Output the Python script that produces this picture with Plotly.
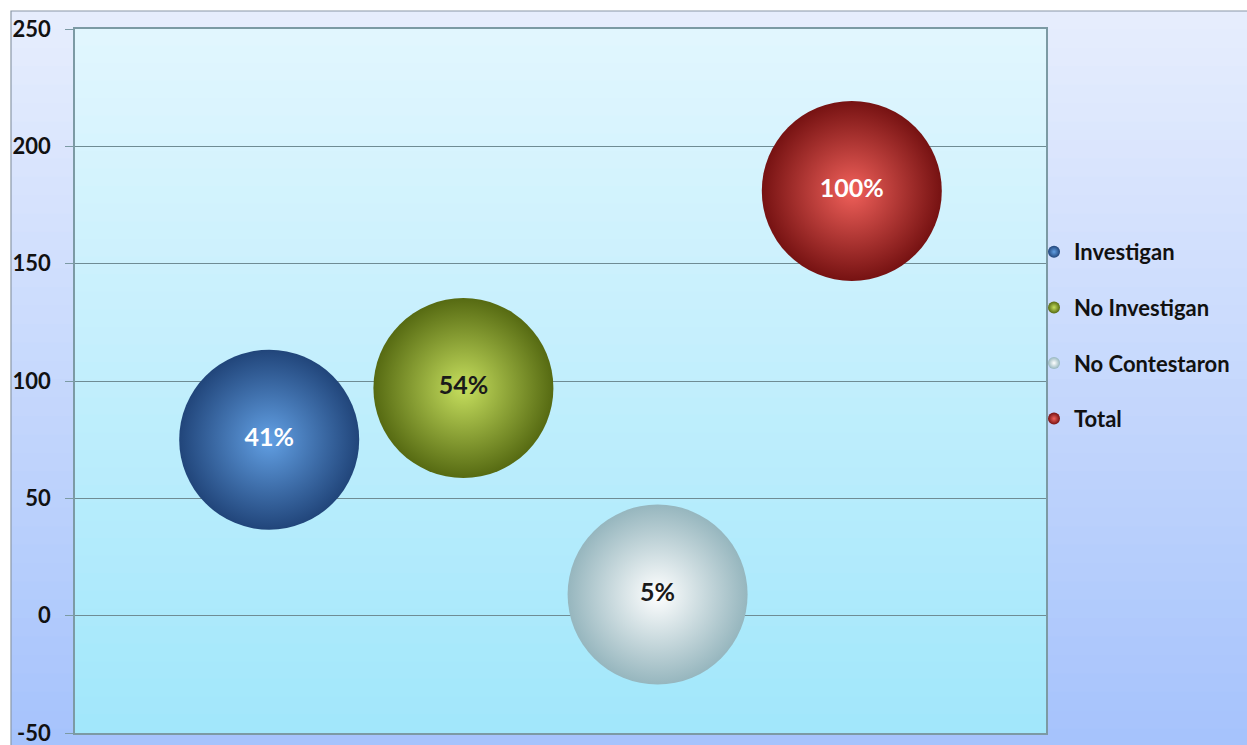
import plotly.graph_objects as go

# ---- data ----
series = ["Investigan", "No Investigan", "No Contestaron", "Total"]
x_pos = [1, 2, 3, 4]
counts = [75, 97, 9, 181]
labels = ["41%", "54%", "5%", "100%"]
y_ticks = [-50, 0, 50, 100, 150, 200, 250]
y_tick_text = ["-50", "0", "50", "100", "150", "200", "250"]

# styles
center_colors = ["#62a0e4", "#c6df5e", "#ffffff", "#f0605a"]
edge_colors = ["#21457a", "#566a12", "#96b6be", "#761212"]
text_colors = ["#ffffff", "#1a1a1a", "#1a1a1a", "#ffffff"]

W, H = 1247, 745
PL, PR, PT, PB = 75, 1046, 29, 733  # plot area in page pixels
L, R, T, B = PL, W - PR, PT, H - PB
pw, ph = PR - PL, PB - PT

def px2paper_x(px):
    return (px - PL) / pw

def px2paper_y(py):
    return (PB - py) / ph

def lerp(c1, c2, t):
    a = [int(c1[i:i + 2], 16) for i in (1, 3, 5)]
    b = [int(c2[i:i + 2], 16) for i in (1, 3, 5)]
    return "rgb(%d,%d,%d)" % tuple(round(a[k] + (b[k] - a[k]) * t) for k in range(3))

shapes = []
n = 40
# outer chart background gradient
y_top, y_bot = 11, H + 2
for i in range(n):
    y0 = y_top + (y_bot - y_top) * i / n
    y1 = y_top + (y_bot - y_top) * (i + 1) / n + 1
    shapes.append(dict(type="rect", xref="paper", yref="paper",
                       x0=px2paper_x(11), x1=px2paper_x(W + 2),
                       y0=px2paper_y(y1), y1=px2paper_y(y0),
                       fillcolor=lerp("#e6edfd", "#a6c3fc", i / (n - 1)),
                       line=dict(width=0), layer="below"))
# outer frame border
shapes.append(dict(type="rect", xref="paper", yref="paper",
                   x0=px2paper_x(11), x1=px2paper_x(W + 5),
                   y0=px2paper_y(H + 5), y1=px2paper_y(11),
                   line=dict(color="#8a98a8", width=1.2), layer="below"))
# plot area gradient
for i in range(n):
    y0 = i / n
    y1 = (i + 1) / n
    shapes.append(dict(type="rect", xref="paper", yref="paper",
                       x0=0, x1=1, y0=1 - y1, y1=min(1, 1 - y0 + 0.002),
                       fillcolor=lerp("#e1f6fe", "#a2e7fb", i / (n - 1)),
                       line=dict(width=0), layer="below"))

fig = go.Figure()
for i, name in enumerate(series):
    fig.add_trace(go.Scatter(
        x=[x_pos[i]], y=[counts[i]], name=name, mode="markers+text",
        text=[labels[i]], textposition="middle center",
        textfont=dict(family="Lato", size=25, color=text_colors[i], weight="bold"),
        marker=dict(size=180, color=edge_colors[i],
                    gradient=dict(type="radial", color=center_colors[i]),
                    line=dict(width=0), opacity=1),
        legendgroup=name,
        hoverinfo="skip",
    ))

fig.update_layout(
    width=W, height=H,
    margin=dict(l=L, r=R, t=T, b=B, autoexpand=False),
    paper_bgcolor="white",
    plot_bgcolor="rgba(0,0,0,0)",
    shapes=shapes,
    showlegend=True,
    legend=dict(x=px2paper_x(1034), xanchor="left", y=px2paper_y(231), yanchor="top",
                font=dict(family="Lato", size=22, color="#111111", weight="bold"),
                itemsizing="constant", bgcolor="rgba(0,0,0,0)",
                traceorder="grouped", tracegroupgap=24, itemwidth=30),
    xaxis=dict(range=[0, 5], showgrid=False, zeroline=False, showticklabels=False,
               ticks="", showline=True, linecolor="#7c9aa4", linewidth=1.5, mirror=True,
               automargin=False),
    yaxis=dict(range=[-50, 250], tickvals=y_ticks, ticktext=y_tick_text, showgrid=True,
               gridcolor="#6f8c94", gridwidth=1, zeroline=False,
               showline=True, linecolor="#7c9aa4", linewidth=1.5, mirror=True,
               ticks="outside", ticklen=8, tickcolor="#7c9aa4",
               ticklabelstandoff=10, automargin=False, ticklabeloverflow="allow",
               tickfont=dict(family="Lato", size=22, color="#111111", weight="bold")),
)

fig.write_html("out.html", config={"displayModeBar": False},
               post_script="document.body.style.margin='0';document.body.style.overflow='hidden';")
